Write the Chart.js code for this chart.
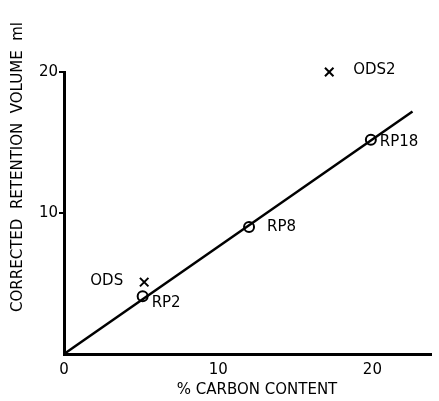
<!DOCTYPE html>
<html>
<head>
<meta charset="utf-8">
<script src="https://cdn.jsdelivr.net/npm/chart.js@4"></script>
<style>
  html, body { margin: 0; padding: 0; background: #fff; }
  #wrap { width: 439px; height: 401px; }
</style>
</head>
<body>
<div id="wrap"><canvas id="chart_1" width="439" height="401"></canvas></div>
<script>
const rp_names = ["RP2", "RP8", "RP18"]
const rp_carbon = [5.1, 12.0, 19.9]
const rp_volume = [4.1, 9.0, 15.2]

const ods_names = ["ODS", "ODS2"]
const ods_carbon = [5.2, 17.2]
const ods_volume = [5.1, 20.0]

const fit_carbon = [0, 22.6]
const fit_volume = [0, 17.2]

const x_ticks = [0, 10, 20]
const y_ticks = [10, 20]

const font_family = "'DejaVu Sans', sans-serif"

function to_points(xs, ys){
    return xs.map((x, i) => ({ x: x, y: ys[i] }))
}

// label offsets [dx, dy, align] relative to the point
const rp_label_pos = [[9, 7, "left"], [18, 0, "left"], [9, 2, "left"]]
const ods_label_pos = [[-21, -1, "right"], [24, -2, "left"]]

const point_labels = {
    id: "point_labels",
    afterDatasetsDraw(chart){
        const ctx = chart.ctx
        const xs = chart.scales.x
        const ys = chart.scales.y
        ctx.save()
        ctx.fillStyle = "#000"
        ctx.font = "15px " + font_family
        ctx.textBaseline = "middle"
        rp_names.forEach((name, i) => {
            let p = rp_label_pos[i]
            ctx.textAlign = p[2]
            ctx.fillText(name, xs.getPixelForValue(rp_carbon[i]) + p[0], ys.getPixelForValue(rp_volume[i]) + p[1])
        })
        ods_names.forEach((name, i) => {
            let p = ods_label_pos[i]
            ctx.textAlign = p[2]
            ctx.fillText(name, xs.getPixelForValue(ods_carbon[i]) + p[0], ys.getPixelForValue(ods_volume[i]) + p[1])
        })

        // axis titles
        ctx.font = "15px " + font_family
        ctx.textAlign = "center"
        ctx.fillText("% CARBON CONTENT", 257, 390)
        ctx.translate(18, 167)
        ctx.rotate(-Math.PI / 2)
        ctx.fillText("CORRECTED  RETENTION  VOLUME  ml", 0, 0)
        ctx.restore()
    }
}

const ctx_1 = document.getElementById("chart_1").getContext("2d")

const config_1 = {
    type: "scatter",
    data: {
        datasets: [
            {
                label: "fit",
                data: to_points(fit_carbon, fit_volume),
                showLine: true,
                borderColor: "#000",
                borderWidth: 2.5,
                pointRadius: 0,
                clip: false
            },
            {
                label: "RP",
                data: to_points(rp_carbon, rp_volume),
                pointStyle: "circle",
                pointRadius: 5,
                pointBorderWidth: 2,
                borderColor: "#000",
                backgroundColor: "#fff",
                clip: false
            },
            {
                label: "ODS",
                data: to_points(ods_carbon, ods_volume),
                pointStyle: "crossRot",
                pointRadius: 6,
                pointBorderWidth: 2,
                borderColor: "#000",
                backgroundColor: "#000",
                clip: false
            }
        ]
    },
    options: {
        responsive: false,
        animation: false,
        layout: { padding: { top: 72, right: 0, left: 0, bottom: 0 } },
        plugins: {
            legend: { display: false },
            tooltip: { enabled: false }
        },
        scales: {
            x: {
                type: "linear",
                min: 0,
                max: 23.8,
                afterFit(scale){ scale.height = 47 },
                afterBuildTicks(scale){ scale.ticks = x_ticks.map(v => ({ value: v })) },
                border: { display: true, color: "#000", width: 3 },
                grid: { display: false, drawTicks: false },
                ticks: {
                    color: "#000",
                    padding: 7,
                    font: { family: font_family, size: 15 },
                    maxRotation: 0
                }
            },
            y: {
                type: "linear",
                min: 0,
                max: 20,
                afterFit(scale){ scale.width = 64 },
                afterBuildTicks(scale){ scale.ticks = y_ticks.map(v => ({ value: v })) },
                border: { display: true, color: "#000", width: 3 },
                grid: { drawOnChartArea: false, drawTicks: true, tickLength: 5, color: "#000", lineWidth: 2 },
                ticks: {
                    color: "#000",
                    padding: 1,
                    font: { family: font_family, size: 15 }
                }
            }
        }
    },
    plugins: [point_labels]
}
const chart_1 = new Chart(ctx_1, config_1)
</script>
</body>
</html>
